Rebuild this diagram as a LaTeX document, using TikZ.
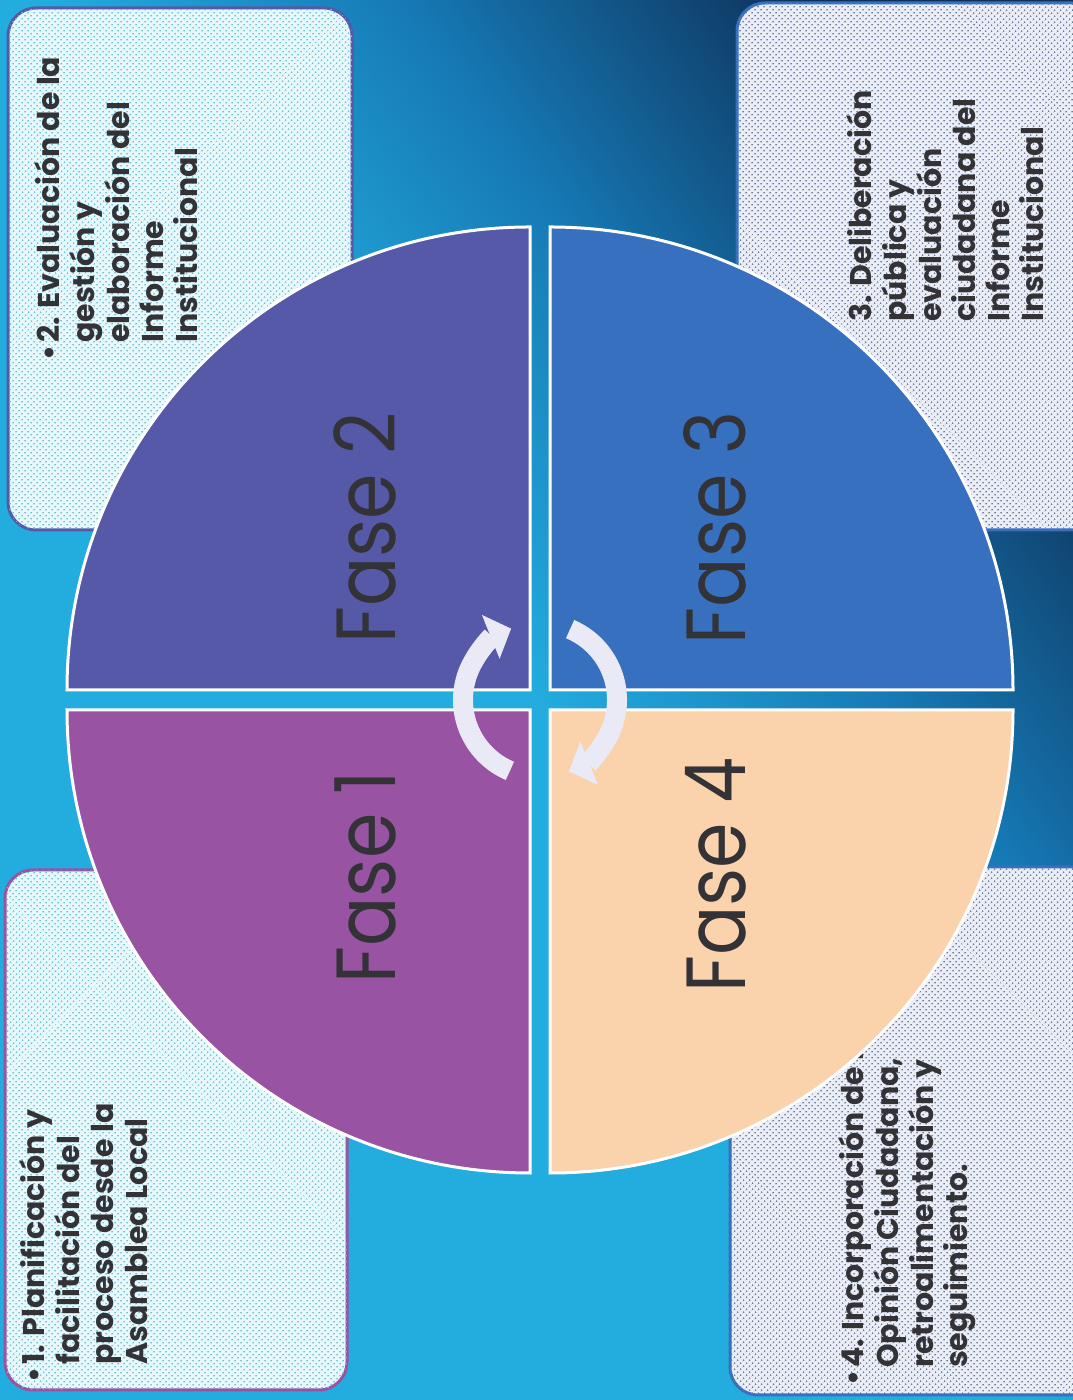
\documentclass[tikz,border=0pt]{standalone}
\usepackage{fontspec}
\setmainfont{Poppins}
\usepackage{tikz}
\usetikzlibrary{positioning,arrows.meta,patterns.meta}

\definecolor{faseOneCol}{RGB}{152,84,163}
\definecolor{faseTwoCol}{RGB}{86,88,168}
\definecolor{faseThreeCol}{RGB}{55,112,190}
\definecolor{faseFourCol}{RGB}{250,210,172}
\definecolor{inkCol}{RGB}{50,50,55}
\definecolor{cyanBg}{RGB}{35,172,222}
\definecolor{midBg}{RGB}{22,122,182}
\definecolor{navyBg}{RGB}{14,48,88}
\definecolor{cycleCol}{RGB}{234,234,246}
\definecolor{paleCyan}{RGB}{232,248,251}
\definecolor{dotCyan}{RGB}{100,196,220}
\definecolor{paleGrey}{RGB}{236,238,246}
\definecolor{dotGrey}{RGB}{105,122,165}

\pgfdeclarehorizontalshading{bgShade}{100bp}{color(0bp)=(cyanBg); color(50bp)=(cyanBg);
  color(62bp)=(midBg); color(76bp)=(navyBg); color(100bp)=(navyBg)}

\tikzset{
     quarter/.style={draw=white, line width=3pt},
     faseLabel/.style={rotate=90, anchor=base, inner sep=0pt, text=inkCol,
       font=\fontsize{84}{84}\selectfont},
     noteBox/.style={rounded corners=28pt, line width=3pt},
     noteText/.style={rotate=90, anchor=base west, inner sep=0pt, text=inkCol,
       font=\fontsize{30}{34}\selectfont\bfseries},
     cycleArrow/.style={draw=cycleCol, line width=20pt, -{Triangle[width=46pt,length=22pt]}}
     }
\newcommand{\faseText}[1]{\scalebox{0.87}[1]{#1}}

\begin{document}
\begin{tikzpicture}[x=1pt,y=1pt]
                    \useasboundingbox (0,0) rectangle (1073,1400);
                    \clip (0,0) rectangle (1073,1400);
                    % Background
                    \shade[shading=bgShade, shading angle=35] (0,0) rectangle (1073,1400);
                    % Note boxes
                    \draw[noteBox, draw=faseOneCol, fill=paleCyan,
                      postaction={pattern={Dots[distance=4pt, radius=1pt, angle=45]}, pattern color=dotCyan}] (5,10) rectangle (347,530);
                    \draw[noteBox, draw=faseTwoCol, fill=paleCyan,
                      postaction={pattern={Dots[distance=4pt, radius=1pt, angle=45]}, pattern color=dotCyan}] (8,870) rectangle (352,1392);
                    \draw[noteBox, draw=faseThreeCol, fill=paleGrey,
                      postaction={pattern={Dots[distance=4pt, radius=1pt, angle=45]}, pattern color=dotGrey}] (737,870) rectangle (1100,1397);
                    \draw[noteBox, draw=faseThreeCol, fill=paleGrey,
                      postaction={pattern={Dots[distance=4pt, radius=1pt, angle=45]}, pattern color=dotGrey}] (730,5) rectangle (1100,533);
                    % Place nodes
                    \node[noteText] (noteOne) at (44,17) {\begin{tabular}[t]{@{}l@{\hspace{3pt}}l@{}}
                      \textbullet & 1. Planificación y\\ & facilitación del\\ & proceso desde la\\ & Asamblea Local\end{tabular}};
                    \node[noteText] (noteTwo) at (59,1039) {\begin{tabular}[t]{@{}l@{\hspace{3pt}}l@{}}
                      \textbullet & 2. Evaluación de la\\ & gestión y\\ & elaboración del\\ & Informe\\ & Institucional\end{tabular}};
                    \node[noteText] (noteThree) at (871,1078) {\begin{tabular}[t]{@{}l@{}}
                      3. Deliberación\\ pública y\\ evaluación\\ ciudadana del\\ Informe\\ Institucional\end{tabular}};
                    \node[noteText] (noteFour) at (863,14) {\begin{tabular}[t]{@{}l@{\hspace{3pt}}l@{}}
                      \textbullet & 4. Incorporación de la\\ & Opinión Ciudadana,\\ & retroalimentación y\\ & seguimiento.\end{tabular}};
                    % Quarters of the circle
                    \draw[quarter, fill=faseTwoCol] (530,710) -- ++(-463,0) arc[start angle=180, end angle=90, radius=463] -- cycle;
                    \draw[quarter, fill=faseOneCol] (530,690) -- ++(0,-463) arc[start angle=270, end angle=180, radius=463] -- cycle;
                    \draw[quarter, fill=faseThreeCol] (550,710) -- ++(0,463) arc[start angle=90, end angle=0, radius=463] -- cycle;
                    \draw[quarter, fill=faseFourCol] (550,690) -- ++(463,0) arc[start angle=0, end angle=-90, radius=463] -- cycle;
                    \node[faseLabel] (faseOne) at (395,523) {\faseText{Fase 1}};
                    \node[faseLabel] (faseTwo) at (395,872) {\faseText{Fase 2}};
                    \node[faseLabel] (faseThree) at (745,872) {\faseText{Fase 3}};
                    \node[faseLabel] (faseFour) at (745,525) {\faseText{Fase 4}};
                    % Draw edges
                    \coordinate (hub) at (540,700);
                    \draw[cycleArrow] (hub) ++(247:77) arc[start angle=247, end angle=112, radius=77];
                    \draw[cycleArrow] (hub) ++(67:77) arc[start angle=67, end angle=-68, radius=77];
                \end{tikzpicture}
\end{document}
